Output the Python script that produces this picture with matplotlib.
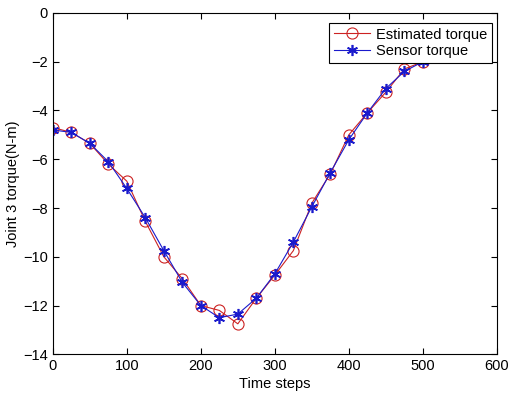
import numpy as np
import matplotlib
matplotlib.use('Agg')
import matplotlib.pyplot as plt

steps = [0, 25, 50, 75, 100, 125, 150, 175, 200, 225, 250,
         275, 300, 325, 350, 375, 400, 425, 450, 475, 500]
estimated = [-4.7, -4.9, -5.35, -6.2, -6.9, -8.55, -10.0, -10.9, -12.0, -12.2, -12.75,
             -11.7, -10.75, -9.75, -7.8, -6.6, -5.0, -4.1, -3.25, -2.3, -2.0]
sensor = [-4.8, -4.9, -5.35, -6.1, -7.2, -8.4, -9.75, -11.05, -12.0, -12.5, -12.35,
          -11.7, -10.7, -9.4, -7.95, -6.55, -5.2, -4.1, -3.1, -2.4, -2.0]

plt.rcParams['font.family'] = ['Liberation Sans', 'DejaVu Sans']

fig = plt.figure(figsize=(5.08, 4.04), dpi=100)
ax = fig.add_axes([0.104, 0.123, 0.874, 0.845])

ax.plot(steps, estimated, color='#cc2222', lw=0.8, marker='o', ms=8,
        mfc='none', mec='#cc2222', mew=0.8, label='Estimated torque')
ax.plot(steps, sensor, color='#1a1acc', lw=0.8, marker=(6, 2, 0), ms=8,
        mfc='#1a1acc', mec='#1a1acc', mew=1.2, label='Sensor torque')

ax.set_xlim(0, 600)
ax.set_ylim(-14, 0)
ax.set_xticks(range(0, 601, 100))
ax.set_yticks(range(-14, 1, 2))
ax.tick_params(direction='in', top=True, right=True, labelsize=10.5, length=4)
ax.set_xlabel('Time steps', fontsize=10.5, labelpad=3)
ax.set_ylabel('Joint 3 torque(N-m)', fontsize=10.5, labelpad=2)

leg = ax.legend(loc='upper right', fontsize=10.5, fancybox=False, framealpha=1,
                edgecolor='black', borderaxespad=0.35, handlelength=2.5,
                borderpad=0.3, labelspacing=0.2, handletextpad=0.4,
                bbox_to_anchor=(1.0, 0.985))
leg.get_frame().set_linewidth(0.8)

fig.savefig('out.png', dpi=100)
